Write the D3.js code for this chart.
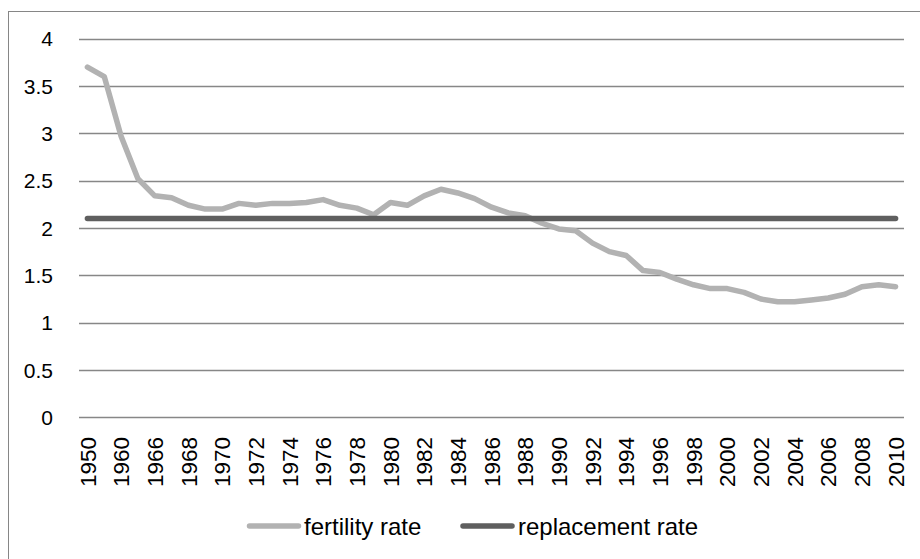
<!DOCTYPE html>
<html>
<head>
<meta charset="utf-8">
<script src="https://cdn.jsdelivr.net/npm/d3@7"></script>
<style>
  html, body { margin: 0; padding: 0; background: #fff; }
  svg { display: block; font-family: "Liberation Sans", Arial, sans-serif; }
</style>
</head>
<body>
<div id="chart"></div>
<script>
const years = ["1950", "1955", "1960", "1965"].concat(d3.range(1966, 2011).map(String));

const fertility = [
  3.70, 3.60, 2.97, 2.52, 2.34, 2.32, 2.24, 2.20, 2.20, 2.26,
  2.24, 2.26, 2.26, 2.27, 2.30, 2.24, 2.21, 2.14, 2.27, 2.24,
  2.34, 2.41, 2.37, 2.31, 2.22, 2.16, 2.13, 2.05, 1.99, 1.97,
  1.84, 1.75, 1.71, 1.55, 1.53, 1.46, 1.40, 1.36, 1.36, 1.32,
  1.25, 1.22, 1.22, 1.24, 1.26, 1.30, 1.38, 1.40, 1.38
];
const replacement = years.map(() => 2.1);

const yTicks = [0, 0.5, 1, 1.5, 2, 2.5, 3, 3.5, 4];
const seriesNames = ["fertility rate", "replacement rate"];
const seriesColors = ["#b2b2b2", "#5f5f5f"];

const width = 920;
const height = 559;
const plot = { left: 79, right: 904, top: 38.7, bottom: 417.3 };

const svg = d3.select("#chart").append("svg")
  .attr("width", width)
  .attr("height", height);

// outer chart frame
svg.append("rect")
  .attr("x", 8.5)
  .attr("y", 11.5)
  .attr("width", width)
  .attr("height", height)
  .attr("fill", "none")
  .attr("stroke", "#868686");

const x = d3.scaleBand()
  .domain(years)
  .range([plot.left, plot.right]);

const y = d3.scaleLinear()
  .domain([0, 4])
  .range([plot.bottom, plot.top]);

// gridlines
svg.append("g")
  .selectAll("line")
  .data(yTicks)
  .enter().append("line")
    .attr("x1", plot.left)
    .attr("x2", plot.right)
    .attr("y1", d => Math.round(y(d)) + 0.5)
    .attr("y2", d => Math.round(y(d)) + 0.5)
    .attr("stroke", "#878787")
    .attr("stroke-width", 1.3);

// y axis labels
svg.append("g")
  .selectAll("text")
  .data(yTicks)
  .enter().append("text")
    .attr("x", 53)
    .attr("y", d => y(d))
    .attr("dy", "0.36em")
    .attr("text-anchor", "end")
    .attr("font-size", 21)
    .attr("fill", "#000")
    .text(d => d);

// x axis labels, every other category
svg.append("g")
  .selectAll("text")
  .data(years.filter((d, i) => i % 2 === 0))
  .enter().append("text")
    .attr("transform", d => `translate(${x(d) + x.bandwidth() / 2},437) rotate(-90)`)
    .attr("dy", "0.36em")
    .attr("text-anchor", "end")
    .attr("font-size", 22.5)
    .attr("fill", "#000")
    .text(d => d);

const line = d3.line()
  .x((d, i) => x(years[i]) + x.bandwidth() / 2)
  .y(d => y(d));

[fertility, replacement].forEach((values, k) => {
  svg.append("path")
    .datum(values)
    .attr("d", line)
    .attr("fill", "none")
    .attr("stroke", seriesColors[k])
    .attr("stroke-width", 5.5)
    .attr("stroke-linejoin", "round")
    .attr("stroke-linecap", "round");
});

// legend
const legendX = [249.5, 463];
const legend = svg.append("g")
  .selectAll("g")
  .data(seriesNames)
  .enter().append("g")
    .attr("transform", (d, i) => `translate(${legendX[i]},526)`);

legend.append("line")
  .attr("x1", 0)
  .attr("x2", 49)
  .attr("stroke", (d, i) => seriesColors[i])
  .attr("stroke-width", 5.5)
  .attr("stroke-linecap", "round");

legend.append("text")
  .attr("x", (d, i) => i === 0 ? 54.5 : 55)
  .attr("dy", "0.36em")
  .attr("font-size", 24)
  .attr("fill", "#000")
  .text(d => d);
</script>
</body>
</html>
